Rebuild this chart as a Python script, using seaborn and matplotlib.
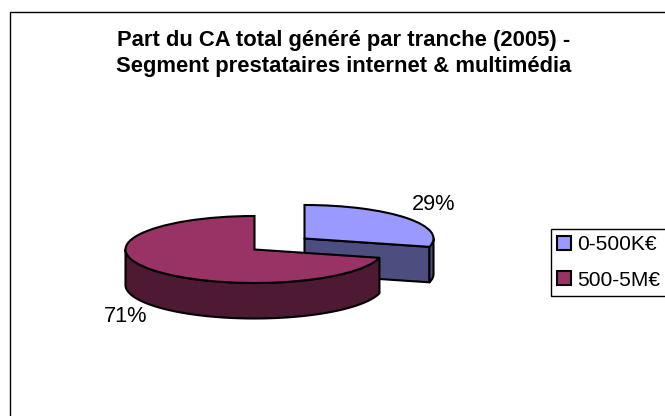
import numpy as np
import matplotlib
matplotlib.use("Agg")
import matplotlib.pyplot as plt
from matplotlib.patches import Patch, Rectangle
import seaborn as sns

TITLE = "Part du CA total généré par tranche (2005) -\nSegment prestataires internet & multimédia"
categories = ["0-500K€", "500-5M€"]
shares = [29, 71]
top_colors = ["#9999FF", "#993366"]
side_colors = ["#4D4D80", "#4D1933"]

sns.set_theme(style="white")
plt.rcParams["font.family"] = ["Liberation Sans", "DejaVu Sans"]

W, H = 665, 416
RX, RY, DEPTH = 129, 33.5, 35.5   # ellipse radii and rim height, in px
LW = 1.5
FS = 15.7
LEGEND_FS = 15.1


def px(x, y):
    # picture pixels (y down) to data units, where the pie has radius 1
    return x / RX, (H - y) / RY


def rim(cx, cy, t0, t1):
    # outer arc, t is clockwise from 12 o'clock in degrees
    t = np.radians(np.linspace(t0, t1, 120))
    x, y = px(cx, cy)
    return x + np.sin(t), y + np.cos(t)


def draw_slice(ax, i, cx, cy, t0, t1):
    d = DEPTH / RY
    x0, y0 = px(cx, cy)
    style = dict(facecolor=side_colors[i], edgecolor="black", linewidth=LW, joinstyle="round")

    # cut face towards the viewer
    if t0 == 0:
        ex, ey = rim(cx, cy, t1, t1)
        ax.fill([x0, ex[0], ex[0], x0], [y0, ey[0], ey[0] - d, y0 - d], **style)

    # front part of the rim
    a0, a1 = max(t0, 90), min(t1, 270)
    ax_, ay_ = rim(cx, cy, a0, a1)
    ax.fill(np.r_[ax_, ax_[::-1]], np.r_[ay_, ay_[::-1] - d], **style)

    # top face
    wedges, _ = ax.pie(
        shares, colors=top_colors, startangle=90, counterclock=False, center=(x0, y0),
        wedgeprops=dict(edgecolor="black", linewidth=LW),
    )
    for j, w in enumerate(wedges):
        w.set_visible(j == i)


fig = plt.figure(figsize=(W / 100, H / 100), dpi=100, facecolor="white")
ax = fig.add_axes([0, 0, 1, 1])

end = shares[0] / sum(shares) * 360
draw_slice(ax, 0, 304.5, 238.5, 0, end)
draw_slice(ax, 1, 254.5, 249.5, end, 360)

ax.set_aspect("auto")
ax.set_xlim(0, W / RX)
ax.set_ylim(0, H / RY)
ax.axis("off")

# chart area border, runs off the right and bottom of the picture
ax.add_patch(Rectangle((9.5 / W, 0 - 0.1), 1.2, (H - 12.5) / H + 0.1, transform=ax.transAxes,
                       fill=False, edgecolor="black", linewidth=1.0, clip_on=False, zorder=0))

fig.text(343.5 / W, 1 - 53.5 / H, TITLE, ha="center", va="center", fontsize=15.8,
         fontweight="bold", color="black", linespacing=1.27)

ax.text(*px(434, 204.5), f"{shares[0]}%", ha="center", va="center", fontsize=FS, color="black")
ax.text(*px(126, 317), f"{shares[1]}%", ha="center", va="center", fontsize=FS, color="black")

handles = [Patch(facecolor=c, edgecolor="black", linewidth=LW, label=n)
           for c, n in zip(top_colors, categories)]
# legend box also runs off the right edge, hence the expand
leg = ax.legend(handles=handles, loc="upper left", mode="expand",
                bbox_to_anchor=(550.5 / W, 1 - 228.5 / H, 130 / W, 0),
                bbox_transform=ax.transAxes, borderaxespad=0, fontsize=LEGEND_FS, frameon=True,
                fancybox=False, framealpha=1, edgecolor="black", handlelength=0.66,
                handleheight=0.66, handletextpad=0.27, labelspacing=0.78, borderpad=0.32,
                labelcolor="black")
leg.get_frame().set_linewidth(1.0)
leg.set_zorder(5)

fig.savefig("out.png", dpi=100)
